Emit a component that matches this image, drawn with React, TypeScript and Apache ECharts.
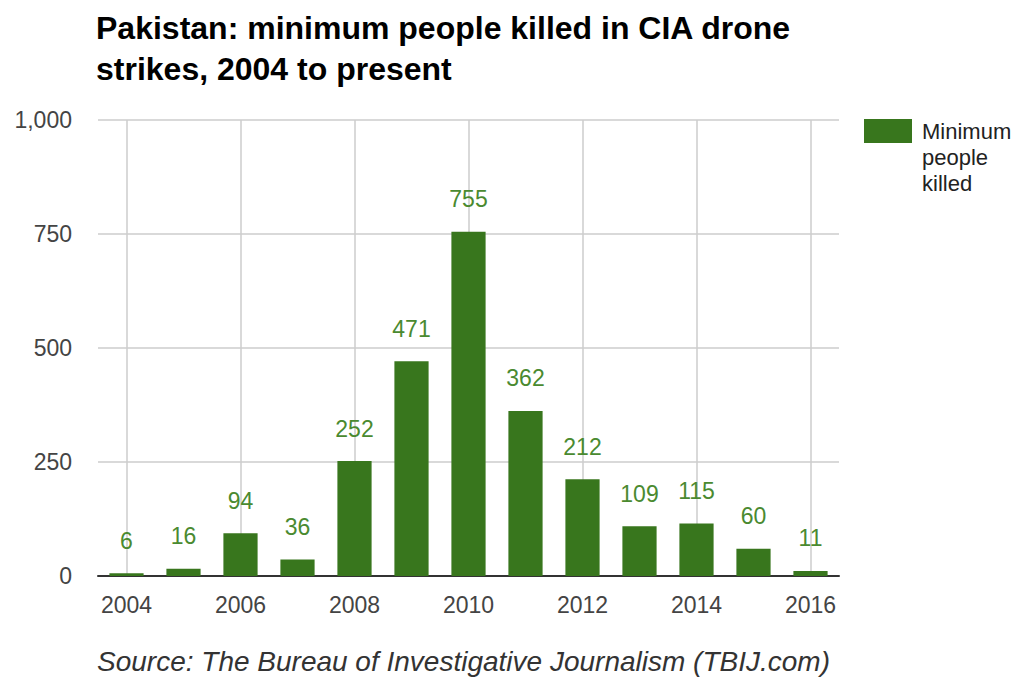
import React, { useEffect, useRef } from "react";
import * as echarts from "echarts";

const years = ["2004", "2005", "2006", "2007", "2008", "2009", "2010", "2011", "2012", "2013", "2014", "2015", "2016"];
const killed = [6, 16, 94, 36, 252, 471, 755, 362, 212, 109, 115, 60, 11];
const gridYears = ["2004", "2006", "2008", "2010", "2012", "2014", "2016"];
const titleText = "Pakistan: minimum people killed in CIA drone\nstrikes, 2004 to present";
const seriesName = "Minimum people killed";
const legendLines = "Minimum\npeople\nkilled";
const sourceText = "Source: The Bureau of Investigative Journalism (TBIJ.com)";

const FONT = "'Liberation Sans', Arial, sans-serif";
const BAR = "#38761d";

export default function App() {
  const ref = useRef<HTMLDivElement>(null);
  useEffect(() => {
    const chart = echarts.init(ref.current!, null, { renderer: "svg" });
    chart.setOption({
      animation: false,
      backgroundColor: "#ffffff",
      textStyle: { fontFamily: FONT },
      title: {
        text: titleText,
        left: 91,
        top: 2,
        textStyle: { fontFamily: FONT, fontSize: 32, fontWeight: "bold", color: "#000", lineHeight: 41 },
      },
      grid: { left: 98, right: 190, top: 120, bottom: 109, containLabel: false },
      xAxis: {
        type: "category",
        data: years,
        boundaryGap: true,
        axisLine: { show: true, lineStyle: { color: "#333", width: 2 } },
        axisTick: { show: false },
        axisLabel: { interval: 1, margin: 17, fontSize: 23, color: "#444", fontFamily: FONT },
        splitLine: { show: false },
      },
      yAxis: {
        type: "value",
        min: 0,
        max: 1000,
        interval: 250,
        axisLine: { show: false },
        axisTick: { show: false },
        axisLabel: {
          margin: 26,
          fontSize: 23,
          color: "#444",
          fontFamily: FONT,
          formatter: (v: number) => v.toLocaleString("en-US"),
        },
        splitLine: { lineStyle: { color: "#cccccc", width: 1.5 } },
      },
      series: [
        {
          type: "line",
          data: [],
          z: 1,
          silent: true,
          markLine: {
            silent: true,
            z: 1,
            symbol: "none",
            label: { show: false },
            lineStyle: { color: "#cccccc", width: 1.5, type: "solid" },
            data: gridYears.map((y) => ({ xAxis: y })),
          },
        },
        {
          name: seriesName,
          type: "bar",
          data: killed,
          z: 3,
          barWidth: "60%",
          itemStyle: { color: BAR },
          label: {
            show: true,
            position: "top",
            distance: 21,
            fontSize: 23,
            color: "#4a8a30",
            fontFamily: FONT,
          },
        },
      ],
      graphic: [
        {
          type: "rect",
          left: 864,
          top: 119,
          shape: { width: 48, height: 24 },
          style: { fill: BAR },
        },
        {
          type: "text",
          left: 922,
          top: 118,
          style: { text: legendLines, fontSize: 22, lineHeight: 26, fill: "#222", fontFamily: FONT },
        },
        {
          type: "text",
          left: 97,
          top: 647,
          style: { text: sourceText, fontSize: 28, fontStyle: "italic", fill: "#333", fontFamily: FONT },
        },
      ],
    });
    return () => chart.dispose();
  }, []);
  return <div ref={ref} style={{ width: 1029, height: 685, position: "absolute", left: 0, top: 0 }} />;
}
